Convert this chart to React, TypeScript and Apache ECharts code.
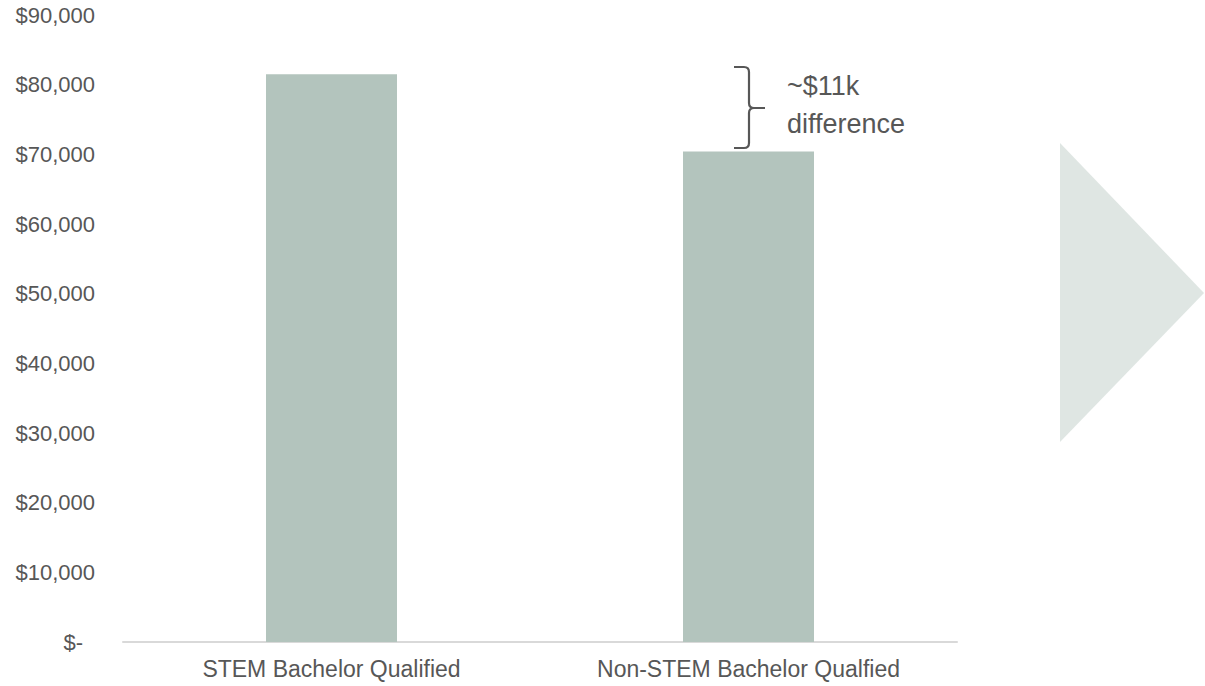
import React, { useEffect, useRef } from "react";
import * as echarts from "echarts";

const categories = ["STEM Bachelor Qualified", "Non-STEM Bachelor Qualfied"];
const salaries = [81500, 70400];
const yTicks = { min: 0, max: 90000, interval: 10000 };
const noteLines = ["~$11k", "difference"];

const TEXT = "#575757";
const FONT = "'Liberation Sans', Arial, sans-serif";

const fmt = (v: number) =>
  v === 0 ? "{z|$-}" : "$" + v.toLocaleString("en-US");

export default function App() {
  const ref = useRef<HTMLDivElement>(null);
  useEffect(() => {
    if (!ref.current) return;
    echarts.graphic.registerShape(
      "brace",
      echarts.graphic.extendPath(
        "M 0 0 L 10 0 Q 15 0 15 5 L 15 36 Q 15 41 20 41 L 31 41 L 20 41 Q 15 41 15 46 L 15 76 Q 15 81 10 81 L 0 81",
        {}
      )
    );
    const chart = echarts.init(ref.current, null, { renderer: "svg" });
    chart.setOption({
      animation: false,
      textStyle: { fontFamily: FONT },
      grid: { left: 123, right: 248, top: 15, bottom: 44, containLabel: false },
      xAxis: {
        type: "category",
        data: categories,
        axisLine: { lineStyle: { color: "#d9d9d9", width: 2 } },
        axisTick: { show: false },
        axisLabel: { color: TEXT, fontSize: 23, margin: 15, fontFamily: FONT },
      },
      yAxis: {
        type: "value",
        min: yTicks.min,
        max: yTicks.max,
        interval: yTicks.interval,
        axisLine: { show: false },
        axisTick: { show: false },
        splitLine: { show: false },
        axisLabel: {
          color: TEXT,
          fontSize: 22,
          margin: 28,
          fontFamily: FONT,
          formatter: fmt,
          rich: {
            z: { color: TEXT, fontSize: 22, fontFamily: FONT, padding: [0, 12, 0, 0] },
          },
        },
      },
      series: [
        {
          type: "bar",
          data: salaries,
          barWidth: 131,
          itemStyle: { color: "#b3c4bd" },
        },
      ],
      graphic: [
        {
          type: "polygon",
          shape: { points: [[1060, 143], [1204, 293], [1060, 442]] },
          style: { fill: "#dfe6e3" },
          silent: true,
        },
        {
          type: "brace",
          x: 734,
          y: 67,
          style: { fill: "none", stroke: TEXT, lineWidth: 2.2 },
          silent: true,
        },
        {
          type: "text",
          x: 787,
          y: 86,
          style: {
            text: noteLines[0],
            fill: TEXT,
            font: `27px ${FONT}`,
            verticalAlign: "middle",
          },
        },
        {
          type: "text",
          x: 787,
          y: 124,
          style: {
            text: noteLines[1],
            fill: TEXT,
            font: `27px ${FONT}`,
            verticalAlign: "middle",
          },
        },
      ],
    });
    return () => chart.dispose();
  }, []);
  return (
    <div
      ref={ref}
      style={{ position: "fixed", left: 0, top: 0, width: 1205, height: 686, background: "#fff" }}
    />
  );
}
